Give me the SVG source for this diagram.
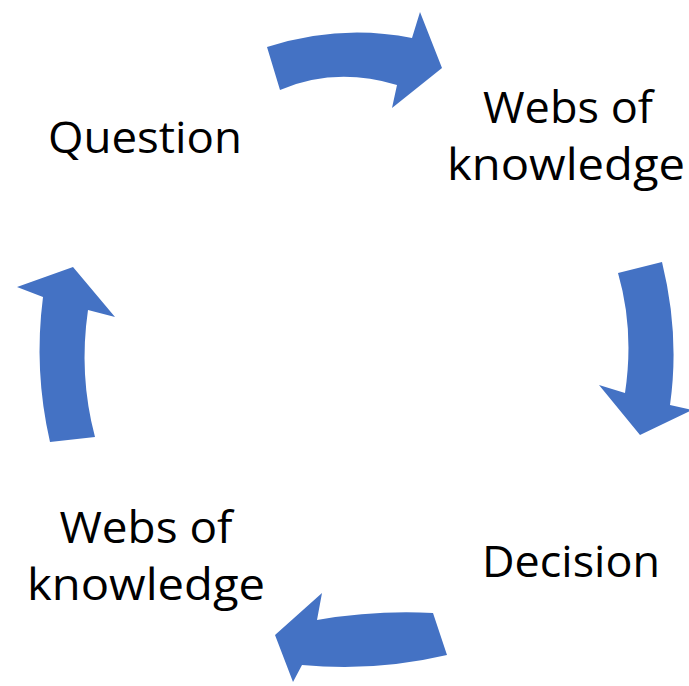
<svg xmlns="http://www.w3.org/2000/svg" width="689" height="686" viewBox="0 0 689 686">
<style>
.arrow{fill:#4472C4;stroke:none}
.lbl{font-family:"Open Sans","Liberation Sans",sans-serif;font-size:44px;fill:#000;text-anchor:middle}
</style>
<rect width="689" height="686" fill="#fff"/>
<g id="connectors">
<path class="arrow" d="M267,47 Q340,23.5 412,38 L420,12 L442,68 L392,108 L397,85 Q335,66.5 280,90 Z"/>
<path class="arrow" d="M618,273 L662,262 Q680,335 670,405 L692,410 L640,435 L599,385 L625,393 Q634.5,330 618,273 Z"/>
<path class="arrow" d="M433,613 Q375,610 317,620 L322,593 L275,635 L293,682 L302,665 Q375,672 447,655 Z"/>
<path class="arrow" d="M50,442 Q33.5,370 43,297 L17,287 L73,267 L115,317 L88,310 Q78.5,375 95,437 Z"/>
</g>
<g id="question"><text class="lbl" x="145" y="153" textLength="194" lengthAdjust="spacingAndGlyphs">Question</text></g>
<g id="webs-top">
<text class="lbl" x="568" y="123" textLength="170" lengthAdjust="spacingAndGlyphs">Webs of</text>
<text class="lbl" x="566" y="180" textLength="238" lengthAdjust="spacingAndGlyphs">knowledge</text>
</g>
<g id="decision"><text class="lbl" x="571" y="577" textLength="178" lengthAdjust="spacingAndGlyphs">Decision</text></g>
<g id="webs-bottom">
<text class="lbl" x="146" y="543" textLength="173" lengthAdjust="spacingAndGlyphs">Webs of</text>
<text class="lbl" x="146" y="600" textLength="238" lengthAdjust="spacingAndGlyphs">knowledge</text>
</g>
</svg>
